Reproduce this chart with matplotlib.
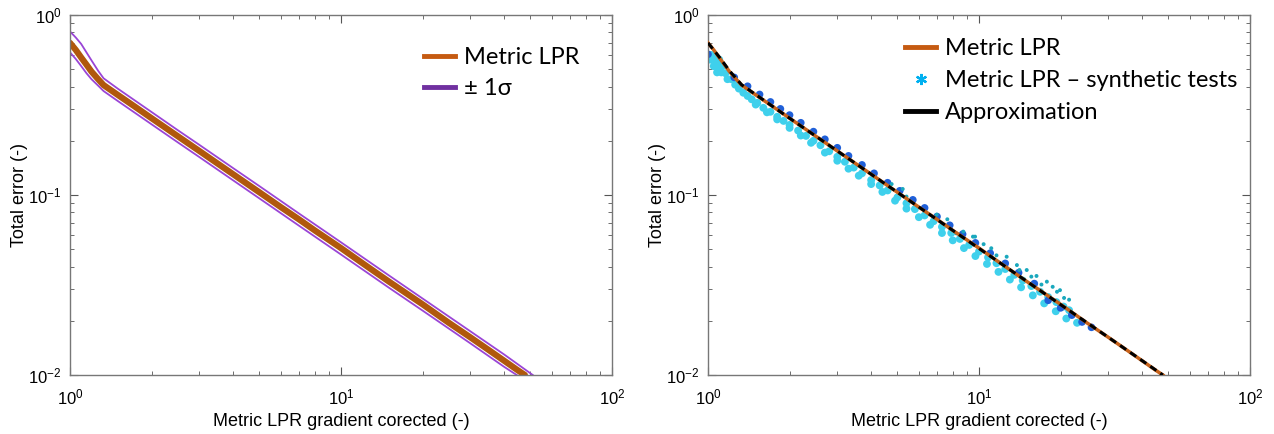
import matplotlib
matplotlib.use("Agg")
import matplotlib.pyplot as plt
from matplotlib.lines import Line2D

plt.rcParams['font.family'] = 'Liberation Sans'
plt.rcParams['mathtext.fontset'] = 'custom'
plt.rcParams['mathtext.rm'] = 'Liberation Sans'
plt.rcParams['mathtext.it'] = 'Liberation Sans:italic'
plt.rcParams['axes.unicode_minus'] = False

# Metric LPR mean curve
lpr_x = [1.00, 1.05, 1.10, 1.15, 1.20, 1.27, 1.33, 1.5, 1.75, 2.0, 2.5, 3.0, 4.0,
         5.0, 6.0, 7.0, 8.0, 10, 12, 15, 20, 25, 30, 35, 40, 45, 47.7]
lpr_y = [0.70, 0.64, 0.58, 0.53, 0.485, 0.44, 0.408, 0.360, 0.307, 0.267, 0.212,
         0.1757, 0.1304, 0.1035, 0.0856, 0.0732, 0.0636, 0.0507, 0.0418, 0.0331,
         0.0247, 0.0195, 0.0162, 0.0138, 0.0120, 0.0106, 0.0100]

# +/- 1 sigma
up_x = [1.00, 1.05, 1.10, 1.15, 1.20, 1.27, 1.33, 1.5, 2.0, 2.5, 3.0, 4.0, 5.0, 7.0,
        10, 15, 20, 30, 40, 51]
up_y = [0.81, 0.75, 0.69, 0.62, 0.56, 0.49, 0.445, 0.39, 0.289, 0.229, 0.190, 0.141,
        0.112, 0.0789, 0.0546, 0.0358, 0.0266, 0.0175, 0.0130, 0.0100]
lo_x = [1.00, 1.05, 1.10, 1.15, 1.20, 1.27, 1.33, 1.5, 2.0, 2.5, 3.0, 4.0, 5.0, 7.0,
        10, 15, 20, 30, 40, 44.5]
lo_y = [0.62, 0.57, 0.52, 0.475, 0.44, 0.405, 0.378, 0.333, 0.247, 0.196, 0.1625,
        0.1206, 0.0957, 0.0675, 0.0467, 0.0306, 0.0228, 0.0150, 0.0111, 0.0100]

# Approximation
apx_x = [1.0, 1.1, 1.2, 1.33, 2.0, 3.0, 5.0, 10, 20, 30, 47.7]
apx_y = [0.70, 0.585, 0.49, 0.410, 0.267, 0.1757, 0.1035, 0.0505, 0.0246, 0.0162, 0.0100]

# synthetic tests (scatter), three groups
cyan_x = [1.00, 1.03, 1.06, 1.02, 1.06, 1.10, 1.05, 1.09, 1.13, 1.08, 1.12, 1.16, 1.18,
          1.22, 1.26, 1.30, 1.35, 1.40, 1.45, 1.52, 1.6, 1.7, 1.8, 1.9, 2.0, 2.15, 2.3,
          2.45, 2.6, 2.8, 3.0, 3.2, 3.45, 3.7, 4.0, 4.3, 4.6, 5.0, 5.4, 5.8, 6.3, 6.8,
          7.3, 7.9, 8.5, 9.2, 10, 10.8, 11.6, 12.5, 13.5, 14.5, 15.6, 16.8, 18, 19.3,
          20.5, 21.5,
          1.5, 1.65, 1.8, 2.0, 2.2, 2.4, 2.7, 3.0, 3.3, 3.6, 4.0, 4.4, 4.9, 5.4, 6.0,
          6.6, 7.3, 8.0, 8.8, 9.7, 10.7, 11.8, 13, 14.3, 15.8, 17.4, 19.2, 21, 23]
cyan_y = [0.60, 0.60, 0.59, 0.565, 0.565, 0.565, 0.52, 0.52, 0.52, 0.48, 0.48, 0.475,
          0.44, 0.44, 0.41, 0.39, 0.37, 0.355, 0.34, 0.325, 0.305, 0.29, 0.272, 0.258,
          0.245, 0.228, 0.213, 0.200, 0.189, 0.175, 0.163, 0.153, 0.142, 0.132, 0.121,
          0.113, 0.106, 0.097, 0.090, 0.0835, 0.077, 0.0715, 0.0665, 0.0615, 0.057,
          0.0528, 0.0485, 0.045, 0.0418, 0.0388, 0.036, 0.0335, 0.0312, 0.029, 0.0271,
          0.0254, 0.0240, 0.0229,
          0.318, 0.288, 0.263, 0.236, 0.214, 0.195, 0.172, 0.155, 0.140, 0.128, 0.115,
          0.104, 0.093, 0.084, 0.0753, 0.0683, 0.0615, 0.056, 0.0507, 0.0458, 0.0414,
          0.0374, 0.0339, 0.0307, 0.0277, 0.0250, 0.0226, 0.0206, 0.0195]
blue_x = [1.0, 1.25, 1.4, 1.55, 1.7, 1.85, 2.0, 2.2, 2.45, 2.7, 3.0, 3.3, 3.7, 4.1,
          4.6, 5.1, 5.7, 6.3, 7.0, 7.8, 8.7, 9.7, 11, 12.5, 14, 16, 18, 20, 22, 24, 26]
blue_y = [0.605, 0.45, 0.402, 0.362, 0.329, 0.301, 0.278, 0.252, 0.225, 0.204, 0.183,
          0.165, 0.147, 0.132, 0.117, 0.1055, 0.094, 0.0848, 0.0759, 0.0679, 0.0606,
          0.0542, 0.0475, 0.0417, 0.037, 0.0322, 0.026, 0.0236, 0.0215, 0.0197, 0.0184]
out_x = [4.76, 5.23, 5.4, 6.98, 7.64, 8.25, 8.75, 9.5, 9.67, 10.4, 11.1, 11.6, 12.65,
         13.8, 14.1, 15.0, 15.6, 16.3, 17.0, 17.8, 18.7, 19.4, 19.9, 20.6, 21.5]
out_y = [0.115, 0.108, 0.098, 0.0778, 0.0733, 0.0612, 0.0626, 0.0587, 0.0587, 0.0533,
         0.0506, 0.0462, 0.0454, 0.0408, 0.0383, 0.0383, 0.0352, 0.0355, 0.0318, 0.033,
         0.0309, 0.029, 0.0296, 0.0268, 0.0262]

xlabel = 'Metric LPR gradient corected (-)'
ylabel = 'Total error (-)'
leg_font = {'family': ['Lato', 'DejaVu Sans'], 'size': 17}

fig = plt.figure(figsize=(12.74, 4.34), dpi=100)
ax1 = fig.add_axes([70 / 1274, 59 / 434, 542 / 1274, 360 / 434])
ax2 = fig.add_axes([708 / 1274, 59 / 434, 542 / 1274, 360 / 434])

for ax in (ax1, ax2):
    ax.set_xscale('log')
    ax.set_yscale('log')
    ax.set_xlim(1, 100)
    ax.set_ylim(0.01, 1)
    ax.tick_params(which='both', direction='in', top=True, right=True,
                   labelsize=12, color='#555555')
    ax.tick_params(axis='x', which='both', pad=9)
    ax.tick_params(axis='y', which='both', pad=6)
    ax.tick_params(which='major', length=6)
    ax.tick_params(which='minor', length=3)
    for s in ax.spines.values():
        s.set_color('#777777')
        s.set_linewidth(1)
    ax.set_xlabel(xlabel, fontsize=13)
    ax.set_ylabel(ylabel, fontsize=13)
    ax.xaxis.set_label_coords(0.5, -38 / 360)
    ax.yaxis.set_label_coords(-42 / 542, 0.5)

# left panel
ax1.plot(up_x, up_y, color='#9a45d6', lw=1.3)
ax1.plot(lo_x, lo_y, color='#9a45d6', lw=1.3)
ax1.plot(lpr_x, lpr_y, color='#b0580c', lw=4.5, solid_capstyle='round')
h1 = [Line2D([], [], color='#c55a11', lw=3.5), Line2D([], [], color='#7030a0', lw=3.5)]
ax1.legend(h1, ['Metric LPR', '± 1σ'], loc='upper left',
           bbox_to_anchor=(403 / 1274, 1 - 26 / 434), bbox_transform=fig.transFigure,
           frameon=False, prop=leg_font, handlelength=1.3, handletextpad=0.4,
           labelspacing=0.42)

# right panel
ax2.scatter(cyan_x, cyan_y, s=32, color='#3fd0ec', edgecolors='none', zorder=2)
ax2.scatter(blue_x, blue_y, s=30, color='#1f5fd8', edgecolors='none', zorder=2)
ax2.scatter(out_x, out_y, s=8, color='#1aa8bd', edgecolors='none', zorder=2)
ax2.plot(lpr_x, lpr_y, color='#c8621a', lw=2.5, zorder=3)
ax2.plot(apx_x, apx_y, color='black', lw=2.2, dashes=(2.4, 1.6), zorder=4)
h2 = [Line2D([], [], color='#c55a11', lw=3.5),
      Line2D([], [], color='#00b0f0', lw=0, marker=(6, 2, 0), markersize=8,
             markeredgewidth=1.6),
      Line2D([], [], color='black', lw=3.5)]
ax2.legend(h2, ['Metric LPR', 'Metric LPR – synthetic tests', 'Approximation'],
           loc='upper left', bbox_to_anchor=(884 / 1274, 1 - 17 / 434),
           bbox_transform=fig.transFigure, frameon=False, prop=leg_font,
           handlelength=1.3, handletextpad=0.4, labelspacing=0.47)

fig.savefig('out.png', dpi=100)
